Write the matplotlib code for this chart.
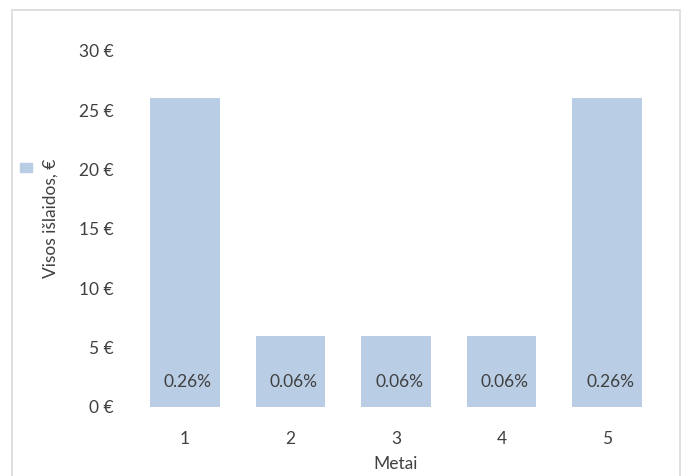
import matplotlib.pyplot as plt
from matplotlib.patches import Rectangle

# data
years = [1, 2, 3, 4, 5]
costs = [26, 6, 6, 6, 26]
shares = ["0.26%", "0.06%", "0.06%", "0.06%", "0.26%"]
yticks = [0, 5, 10, 15, 20, 25, 30]

bar_color = "#B9CDE5"
text_color = "#404040"
fs = 12.5

plt.rcParams['font.family'] = ['Lato', 'DejaVu Sans']

fig = plt.figure(figsize=(6.91, 4.76), dpi=100)
ax = fig.add_axes([0.191, 0.145, 0.764, 0.748])

ax.bar(years, costs, width=0.66, color=bar_color)
for x, s in zip(years, shares):
    ax.text(x + 0.03, 2.1, s, ha="center", va="center", fontsize=fs, color=text_color)

ax.set_xlim(0.5, 5.5)
ax.set_ylim(0, 30)
ax.set_xticks(years)
ax.set_yticks(yticks)
ax.set_yticklabels([f"{v} €" for v in yticks])
ax.tick_params(length=0, labelsize=fs, labelcolor=text_color)
ax.tick_params(axis="y", pad=13)
ax.tick_params(axis="x", pad=17)
for sp in ax.spines.values():
    sp.set_visible(False)

ax.set_xlabel("Metai", fontsize=fs, color=text_color, labelpad=7)
fig.text(0.073, 0.542, "Visos išlaidos, €", rotation=90, ha="center", va="center",
         fontsize=fs, color=text_color)

# legend marker left of the label
fig.patches.append(Rectangle((0.029, 0.639), 0.017, 0.019, transform=fig.transFigure,
                             color=bar_color))
# chart area frame
fig.patches.append(Rectangle((0.0174, -0.05), 0.967, 1.029, transform=fig.transFigure,
                             fill=False, edgecolor="#D9D9D9", linewidth=1.2))

fig.savefig("out.png", dpi=100)
